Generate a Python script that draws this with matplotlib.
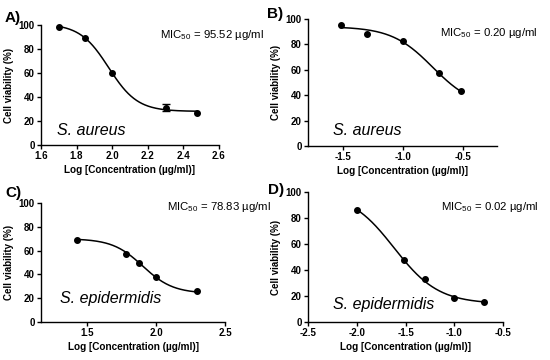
import numpy as np
import matplotlib
matplotlib.use('Agg')
import matplotlib.pyplot as plt

plt.rcParams['font.family'] = ['Liberation Sans', 'DejaVu Sans']
plt.rcParams['mathtext.fontset'] = 'custom'
plt.rcParams['mathtext.rm'] = 'Liberation Sans'
plt.rcParams['mathtext.default'] = 'regular'

# data
a_x = [1.699, 1.845, 2.0, 2.301, 2.477]
a_y = [98.5, 89.5, 60.0, 31.0, 26.5]
a_err = [0, 0, 0, 3.0, 0]
b_x = [-1.52, -1.30, -1.0, -0.70, -0.52]
b_y = [95.5, 88.0, 83.0, 57.5, 43.0]
c_x = [1.43, 1.78, 1.875, 2.0, 2.30]
c_y = [69.0, 57.0, 50.0, 37.5, 26.0]
d_x = [-2.0, -1.52, -1.30, -1.0, -0.70]
d_y = [86.5, 48.0, 33.0, 18.5, 15.5]

# fitted 4PL parameters (top, bottom, logEC50, hill)
a_fit = (101, 28, 1.98, 5.38)
b_fit = (94, 30, -0.754, 2.54)
c_fit = (70, 24, 1.904, 3.96)
d_fit = (100, 14, -1.617, 1.906)

mic_labels = ['MIC$_{50}$ = 95.52 \u00b5g/ml', 'MIC$_{50}$ = 0.20 \u00b5g/ml',
              'MIC$_{50}$ = 78.83 \u00b5g/ml', 'MIC$_{50}$ = 0.02 \u00b5g/ml']
species = ['S. aureus', 'S. aureus', 'S. epidermidis', 'S. epidermidis']
panels = ['A)', 'B)', 'C)', 'D)']


def four_pl(x, p):
    top, bottom, x0, h = p
    return bottom + (top - bottom) / (1 + 10 ** ((x - x0) * h))


W, H = 550, 360
fig = plt.figure(figsize=(5.5, 3.6), dpi=100)


def ax_at(l, r, t, b):
    return fig.add_axes([l / W, 1 - b / H, (r - l) / W, (b - t) / H])


axes = [ax_at(41, 219, 25, 145), ax_at(308, 497, 19, 146),
        ax_at(41, 225, 203, 322), ax_at(308, 503, 192, 322)]
xs = [a_x, b_x, c_x, d_x]
ys = [a_y, b_y, c_y, d_y]
fits = [a_fit, b_fit, c_fit, d_fit]
xlims = [(1.6, 2.6), (-1.79, -0.22), (1.167, 2.5), (-2.5, -0.5)]
xticks = [np.arange(1.6, 2.61, 0.2), [-1.5, -1.0, -0.5], [1.5, 2.0, 2.5],
          np.arange(-2.5, -0.49, 0.5)]

for i, ax in enumerate(axes):
    xx = np.linspace(xs[i][0], xs[i][-1], 200)
    ax.plot(xx, four_pl(xx, fits[i]), color='black', lw=1.1, clip_on=False)
    ax.plot(xs[i], ys[i], 'o', color='black', ms=4, clip_on=False)
    ax.set_xlim(*xlims[i])
    ax.set_ylim(0, 100)
    ax.set_xticks(xticks[i])
    ax.set_xticklabels(['%.1f' % t for t in xticks[i]])
    ax.set_yticks([0, 20, 40, 60, 80, 100])
    for s in ['top', 'right']:
        ax.spines[s].set_visible(False)
    for s in ['left', 'bottom']:
        ax.spines[s].set_linewidth(1.0)
    ax.tick_params(direction='out', length=3, width=1, labelsize=7, pad=1.5)
    for lab in ax.get_xticklabels() + ax.get_yticklabels():
        lab.set_fontweight('bold')
    ax.set_xlabel('Log [Concentration (\u00b5g/ml)]', fontsize=7.2, fontweight='bold', labelpad=3)
    ax.set_ylabel('Cell viability (%)', fontsize=7, fontweight='bold', labelpad=3)

axes[0].errorbar(a_x[3], a_y[3], yerr=a_err[3], fmt='none', ecolor='black',
                 capsize=3, lw=1, clip_on=False)

# texts
mic_pos = [(160, 35), (440, 33), (167, 207), (441, 207)]
sp_pos = [(57, 130), (333, 130), (60, 298), (333, 304)]
pan_pos = [(5, 18), (267, 14), (5, 193), (268, 190)]
for i in range(4):
    fig.text(mic_pos[i][0] / W, 1 - mic_pos[i][1] / H, mic_labels[i],
             fontsize=8.2, va='center', ha='left')
    fig.text(sp_pos[i][0] / W, 1 - sp_pos[i][1] / H, species[i],
             fontsize=11.5, style='italic', va='center', ha='left')
    fig.text(pan_pos[i][0] / W, 1 - pan_pos[i][1] / H, panels[i],
             fontsize=11, fontweight='bold', va='center', ha='left')

fig.savefig('out.png', dpi=100)
